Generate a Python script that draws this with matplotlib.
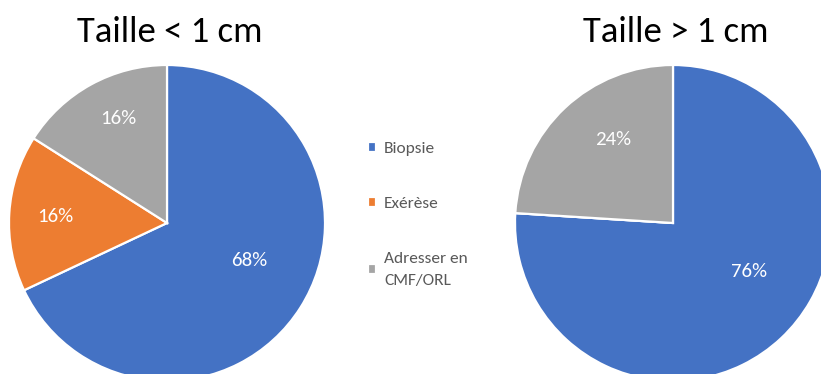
import matplotlib.pyplot as plt

plt.rcParams['font.family'] = ['Carlito', 'Lato', 'DejaVu Sans']

categories = ['Biopsie', 'Exérèse', 'Adresser en\nCMF/ORL']
small = [68, 16, 16]    # Taille < 1 cm
large = [76, 0, 24]     # Taille > 1 cm
titles = ['Taille < 1 cm', 'Taille > 1 cm']
colors = ['#4472C4', '#ED7D31', '#A5A5A5']

W, H = 821, 374
fig = plt.figure(figsize=(W / 100, H / 100), dpi=100)

R = 158  # pie radius in pixels

def add_pie(cx, cy, values, title, label_pos):
    ax = fig.add_axes([(cx - R) / W, (H - cy - R) / H, 2 * R / W, 2 * R / H])
    wedges, _, autotexts = ax.pie(values, colors=colors, startangle=90, counterclock=False,
                                  radius=1, autopct=lambda p: '%d%%' % round(p) if p > 0 else '',
                                  wedgeprops=dict(edgecolor='white', linewidth=1.6),
                                  textprops=dict(color='white', fontsize=15))
    for t, pos in zip(autotexts, label_pos):
        if pos is not None:
            t.set_position(pos)
    ax.set_xlim(-1, 1)
    ax.set_ylim(-1, 1)
    ax.set_aspect('equal')
    ax.axis('off')
    fig.text((cx + 3) / W, 1 - 32 / H, title, ha='center', va='center', fontsize=26.5)
    return wedges

w = add_pie(167, 223, small, titles[0], [(0.52, -0.24), (-0.71, 0.04), (-0.31, 0.66)])
add_pie(673, 223, large, titles[1], [(0.48, -0.31), None, (-0.38, 0.53)])

leg = fig.legend(w, categories, loc='center left', bbox_to_anchor=(352 / W, 1 - 215 / H),
                 frameon=False, fontsize=12.5, labelcolor='#595959', handlelength=0.5,
                 handleheight=0.5, handletextpad=0.45, labelspacing=2.35)
for t in leg.get_texts():
    t.set_linespacing(1.75)

fig.savefig('out.png', dpi=100)
